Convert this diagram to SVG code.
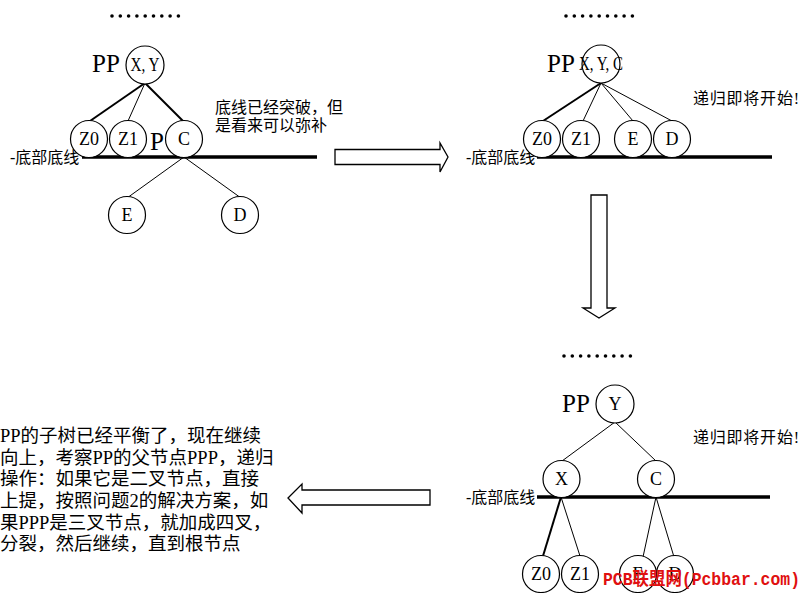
<svg xmlns="http://www.w3.org/2000/svg" width="806" height="593" viewBox="0 0 806 593">
<style>
.bg{fill:#fff}
.node circle{fill:#fff;stroke:#000;stroke-width:1.2}
.lbl{font-family:"Liberation Serif","Noto Sans CJK SC",serif;font-size:18px;fill:#000;text-anchor:middle}
.pp{font-family:"Liberation Serif",serif;font-size:25px;fill:#000}
.cn{font-family:"Liberation Serif","Noto Sans CJK SC",sans-serif;font-size:16px;fill:#000}
.para{font-family:"Liberation Serif","Noto Sans CJK SC",sans-serif;font-size:18.5px;fill:#000}
.thin{stroke:#000;stroke-width:1;fill:none}
.thick{stroke:#000;stroke-width:2;fill:none}
.base{stroke:#000;stroke-width:3.5}
.arrow{fill:#fff;stroke:#000;stroke-width:1.3;stroke-linejoin:miter}
.dot{fill:#000}
.wm{font-family:"Liberation Mono","Noto Sans CJK SC",monospace;font-size:18px;font-weight:bold;fill:#e01010}
</style>
<defs>
<g id="dots">
<circle class="dot" cx="0" cy="0" r="1.8"/><circle class="dot" cx="8.3" cy="0" r="1.8"/><circle class="dot" cx="16.6" cy="0" r="1.8"/><circle class="dot" cx="24.9" cy="0" r="1.8"/><circle class="dot" cx="33.2" cy="0" r="1.8"/><circle class="dot" cx="41.5" cy="0" r="1.8"/><circle class="dot" cx="49.8" cy="0" r="1.8"/><circle class="dot" cx="58.1" cy="0" r="1.8"/><circle class="dot" cx="66.4" cy="0" r="1.8"/>
</g>
</defs>
<rect class="bg" x="0" y="0" width="806" height="593"/>

<!-- dots -->
<use href="#dots" x="112" y="16"/>
<use href="#dots" x="566" y="16"/>
<use href="#dots" x="564" y="356"/>

<!-- baselines -->
<line class="base" x1="82" y1="157" x2="317" y2="157"/>
<line class="base" x1="537" y1="157" x2="772" y2="157"/>
<line class="base" x1="537" y1="497" x2="770" y2="497"/>
<text class="cn" x="10" y="163">-底部底线</text>
<text class="cn" x="466" y="163">-底部底线</text>
<text class="cn" x="466" y="503">-底部底线</text>

<!-- connectors -->
<g id="connectors">
<line class="thick" x1="145" y1="83" x2="90" y2="121"/>
<line class="thin" x1="145" y1="83" x2="128" y2="121"/>
<line class="thick" x1="145" y1="83" x2="183" y2="121"/>
<line class="thin" x1="184" y1="157" x2="127" y2="198"/>
<line class="thin" x1="184" y1="157" x2="241" y2="198"/>

<line class="thick" x1="601" y1="83" x2="543" y2="121"/>
<line class="thin" x1="601" y1="83" x2="583" y2="121"/>
<line class="thin" x1="601" y1="83" x2="633" y2="121"/>
<line class="thin" x1="601" y1="83" x2="672" y2="121"/>

<line class="thin" x1="615" y1="422" x2="562" y2="461"/>
<line class="thin" x1="615" y1="422" x2="656" y2="461"/>
<line class="thick" x1="561" y1="497" x2="543" y2="556"/>
<line class="thin" x1="561" y1="497" x2="580" y2="556"/>
<line class="thin" x1="656" y1="497" x2="643" y2="557"/>
<line class="thin" x1="656" y1="497" x2="674" y2="557"/>
</g>

<!-- panel 1 -->
<text class="pp" x="92" y="72">PP</text>
<text class="pp" x="150" y="150">P</text>
<g id="p1-xy" class="node"><circle cx="145" cy="65" r="19"/><text class="lbl" x="145" y="71" textLength="29" lengthAdjust="spacingAndGlyphs">X, Y</text></g>
<g id="p1-z0" class="node"><circle cx="89" cy="139" r="18.5"/><text class="lbl" x="89" y="145">Z0</text></g>
<g id="p1-z1" class="node"><circle cx="128" cy="139" r="18.5"/><text class="lbl" x="128" y="145">Z1</text></g>
<g id="p1-c" class="node"><circle cx="184" cy="139" r="18.5"/><text class="lbl" x="184" y="145">C</text></g>
<g id="p1-e" class="node"><circle cx="127" cy="215" r="18.5"/><text class="lbl" x="127" y="221">E</text></g>
<g id="p1-d" class="node"><circle cx="240" cy="215" r="18.5"/><text class="lbl" x="240" y="221">D</text></g>
<text class="cn" x="215" y="113">底线已经突破，但</text>
<text class="cn" x="215" y="131">是看来可以弥补</text>

<!-- panel 2 -->
<text class="pp" x="547" y="72">PP</text>
<g id="p2-xyc" class="node"><circle cx="601" cy="64" r="19"/><text class="lbl" x="601" y="70" textLength="44" lengthAdjust="spacingAndGlyphs">X, Y, C</text></g>
<g id="p2-z0" class="node"><circle cx="542" cy="139" r="18.5"/><text class="lbl" x="542" y="145">Z0</text></g>
<g id="p2-z1" class="node"><circle cx="581" cy="139" r="18.5"/><text class="lbl" x="581" y="145">Z1</text></g>
<g id="p2-e" class="node"><circle cx="633" cy="139" r="18.5"/><text class="lbl" x="633" y="145">E</text></g>
<g id="p2-d" class="node"><circle cx="672" cy="139" r="18.5"/><text class="lbl" x="672" y="145">D</text></g>
<text class="cn" x="693" y="104" textLength="106" lengthAdjust="spacing">递归即将开始!</text>

<!-- panel 3 -->
<text class="pp" x="562" y="412">PP</text>
<g id="p3-y" class="node"><circle cx="615" cy="404" r="19"/><text class="lbl" x="615" y="410">Y</text></g>
<g id="p3-x" class="node"><circle cx="561.5" cy="479" r="18.5"/><text class="lbl" x="561.5" y="485">X</text></g>
<g id="p3-c" class="node"><circle cx="656" cy="479" r="18.5"/><text class="lbl" x="656" y="485">C</text></g>
<g id="p3-z0" class="node"><circle cx="541" cy="574" r="18.5"/><text class="lbl" x="541" y="580">Z0</text></g>
<g id="p3-z1" class="node"><circle cx="580" cy="574" r="18.5"/><text class="lbl" x="580" y="580">Z1</text></g>
<g id="p3-e" class="node"><circle cx="638" cy="574" r="18.5"/><text class="lbl" x="638" y="580">E</text></g>
<g id="p3-d" class="node"><circle cx="675" cy="574" r="18.5"/><text class="lbl" x="675" y="580">D</text></g>
<text class="cn" x="693" y="443" textLength="106" lengthAdjust="spacing">递归即将开始!</text>

<!-- block arrows -->
<polygon class="arrow" points="335,149.5 440,149.5 440,143 448,157 440,172 440,164.5 335,164.5"/>
<polygon class="arrow" points="591,195 607,195 607,308 615,308 599,318 583,308 591,308"/>
<polygon class="arrow" points="288,498 302,484 302,490 430,490 430,505 302,505 302,513"/>

<!-- paragraph -->
<text class="para" x="0" y="442">PP的子树已经平衡了，现在继续</text>
<text class="para" x="0" y="464">向上，考察PP的父节点PPP，递归</text>
<text class="para" x="0" y="485">操作：如果它是二叉节点，直接</text>
<text class="para" x="0" y="507">上提，按照问题2的解决方案，如</text>
<text class="para" x="0" y="529">果PPP是三叉节点，就加成四叉，</text>
<text class="para" x="0" y="550">分裂，然后继续，直到根节点</text>

<!-- watermark -->
<text class="wm" x="603" y="585" textLength="197" lengthAdjust="spacingAndGlyphs">PCB联盟网(Pcbbar.com)</text>
</svg>
